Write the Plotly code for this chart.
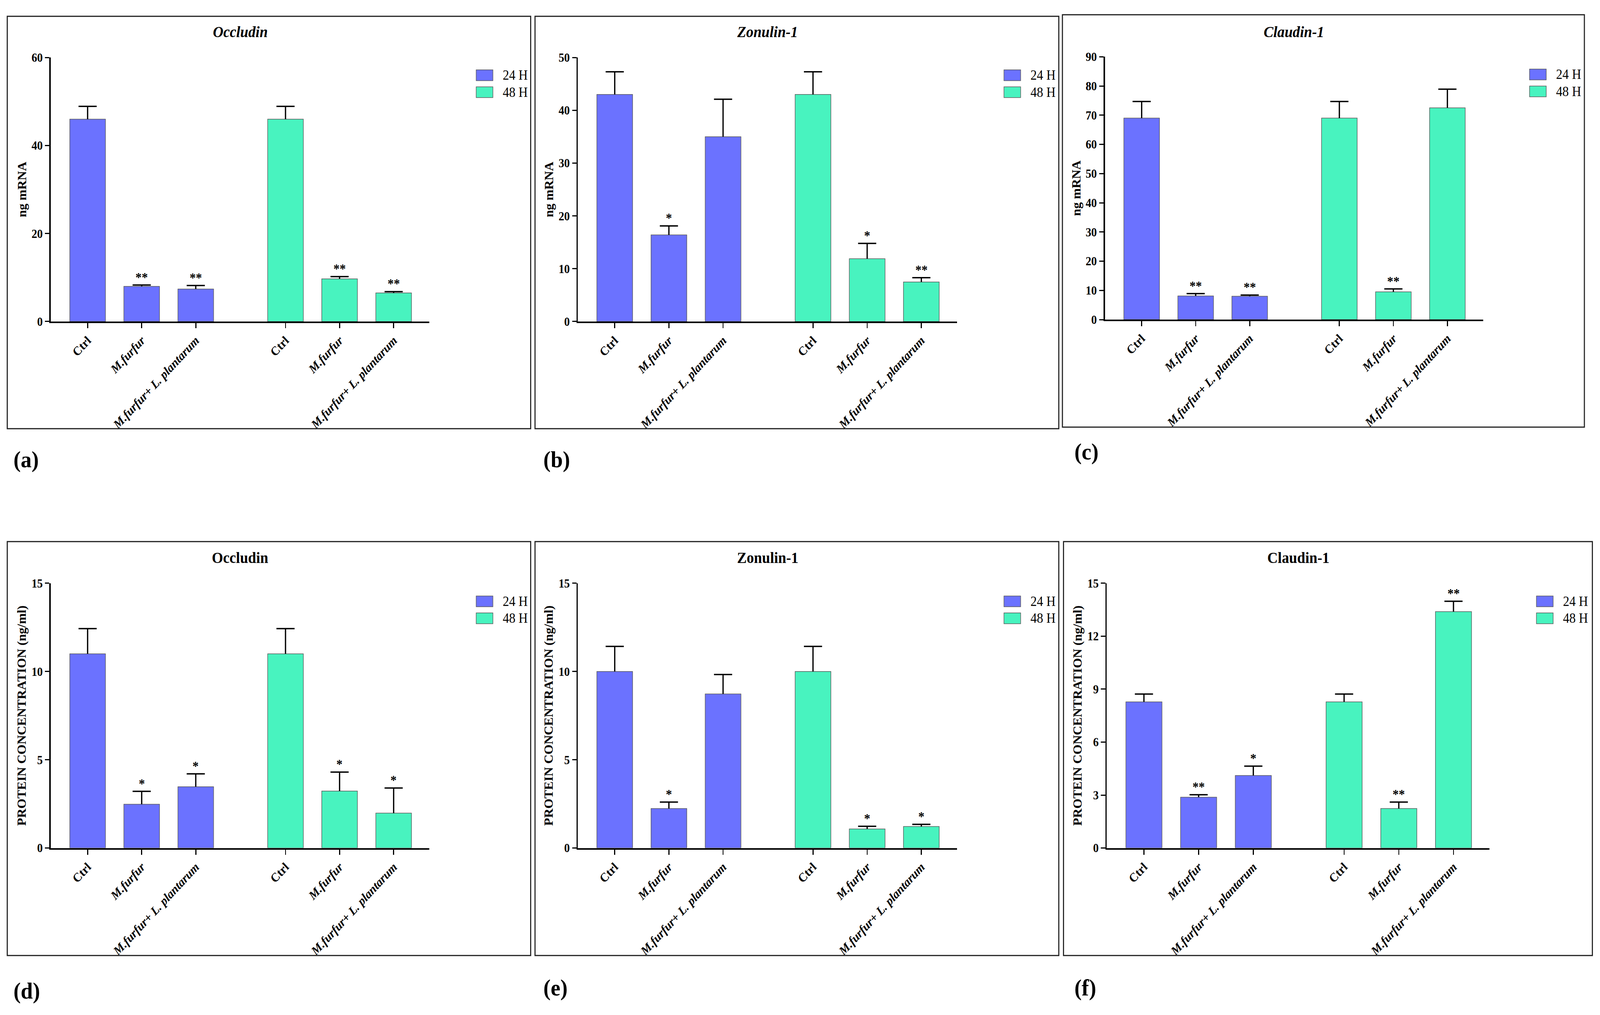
import plotly.graph_objects as go

W, H = 4405, 2598
FONT = "Liberation Serif"

# ---------------- data ----------------
groups = ["Ctrl", "M.furfur", "M.furfur+ L. plantarum"]
tick_text = ["Ctrl", "<i>M.furfur</i>", "<i>M.furfur+ L. plantarum</i>"]
series_names = ["24 H", "48 H"]
panel_titles = ["Occludin", "Zonulin-1", "Claudin-1", "Occludin", "Zonulin-1", "Claudin-1"]
panel_letters = ["(a)", "(b)", "(c)", "(d)", "(e)", "(f)"]
y_titles = ["ng mRNA", "ng mRNA", "ng mRNA",
            "PROTEIN CONCENTRATION (ng/ml)", "PROTEIN CONCENTRATION (ng/ml)", "PROTEIN CONCENTRATION (ng/ml)"]
y_max = [60, 50, 90, 15, 15, 15]
y_dtick = [20, 10, 10, 5, 5, 3]

occ_mrna_24 = [46.0, 8.0, 7.4]
occ_mrna_24_err = [2.9, 0.3, 0.8]
occ_mrna_48 = [46.0, 9.7, 6.5]
occ_mrna_48_err = [2.9, 0.5, 0.3]
occ_mrna_24_sig = ["", "**", "**"]
occ_mrna_48_sig = ["", "**", "**"]

zon_mrna_24 = [43.0, 16.4, 35.0]
zon_mrna_24_err = [4.3, 1.7, 7.1]
zon_mrna_48 = [43.0, 11.9, 7.5]
zon_mrna_48_err = [4.3, 2.9, 0.8]
zon_mrna_24_sig = ["", "*", ""]
zon_mrna_48_sig = ["", "*", "**"]

cla_mrna_24 = [69.0, 8.1, 8.0]
cla_mrna_24_err = [5.7, 0.8, 0.4]
cla_mrna_48 = [69.0, 9.5, 72.5]
cla_mrna_48_err = [5.7, 1.0, 6.4]
cla_mrna_24_sig = ["", "**", "**"]
cla_mrna_48_sig = ["", "**", ""]

occ_prot_24 = [11.0, 2.48, 3.47]
occ_prot_24_err = [1.43, 0.73, 0.73]
occ_prot_48 = [11.0, 3.23, 1.98]
occ_prot_48_err = [1.43, 1.07, 1.42]
occ_prot_24_sig = ["", "*", "*"]
occ_prot_48_sig = ["", "*", "*"]

zon_prot_24 = [10.0, 2.24, 8.73]
zon_prot_24_err = [1.42, 0.36, 1.10]
zon_prot_48 = [10.0, 1.08, 1.22]
zon_prot_48_err = [1.42, 0.15, 0.12]
zon_prot_24_sig = ["", "*", ""]
zon_prot_48_sig = ["", "*", "*"]

cla_prot_24 = [8.28, 2.88, 4.11]
cla_prot_24_err = [0.44, 0.14, 0.53]
cla_prot_48 = [8.28, 2.24, 13.39]
cla_prot_48_err = [0.44, 0.36, 0.59]
cla_prot_24_sig = ["", "**", "*"]
cla_prot_48_sig = ["", "**", "**"]

panels = [
    (occ_mrna_24, occ_mrna_24_err, occ_mrna_24_sig, occ_mrna_48, occ_mrna_48_err, occ_mrna_48_sig),
    (zon_mrna_24, zon_mrna_24_err, zon_mrna_24_sig, zon_mrna_48, zon_mrna_48_err, zon_mrna_48_sig),
    (cla_mrna_24, cla_mrna_24_err, cla_mrna_24_sig, cla_mrna_48, cla_mrna_48_err, cla_mrna_48_sig),
    (occ_prot_24, occ_prot_24_err, occ_prot_24_sig, occ_prot_48, occ_prot_48_err, occ_prot_48_sig),
    (zon_prot_24, zon_prot_24_err, zon_prot_24_sig, zon_prot_48, zon_prot_48_err, zon_prot_48_sig),
    (cla_prot_24, cla_prot_24_err, cla_prot_24_sig, cla_prot_48, cla_prot_48_err, cla_prot_48_sig),
]

# ---------------- style / layout ----------------
COLORS = ["#6B72FF", "#48F3BF"]
BAR_LINE = "#5a5a5a"
GROUP_OFFSET = 3.66
BAR_WIDTH = 0.66
X_RANGE = [-0.68, 6.32]
CAP_PX = 25

# plot areas in pixels: (left, right, top, bottom)
plot_px = [
    (140, 1182, 132, 817),
    (1591, 2635, 132, 817),
    (3042, 4083, 130, 812),
    (140, 1182, 1496, 2183),
    (1591, 2635, 1496, 2183),
    (3047, 4101, 1496, 2183),
]
box_px = [
    (20, 1461, 25, 1095),
    (1473, 2915, 25, 1095),
    (2925, 4362, 21, 1091),
    (20, 1461, 1388, 2462),
    (1473, 2915, 1388, 2462),
    (2928, 4384, 1388, 2462),
]
title_y_px = [65, 65, 65, 1430, 1430, 1430]
legend_px = [  # left of swatch, top of first swatch, text left
    (1311, 164, 1382),
    (2764, 164, 2835),
    (4211, 162, 4282),
    (1311, 1529, 1382),
    (2764, 1529, 2835),
    (4230, 1529, 4301),
]
letter_px = [(35, 1175), (1494, 1175), (2956, 1155), (35, 2553), (1494, 2545), (2956, 2545)]


def px_x(p):
    return p / W


def px_y(p):
    return 1 - p / H


fig = go.Figure()
layout = dict(
    width=W, height=H, margin=dict(l=0, r=0, t=0, b=0),
    paper_bgcolor="white", plot_bgcolor="white", showlegend=False,
    font=dict(family=FONT, color="black"),
)
annotations = []
shapes = []

for k, (v24, e24, s24, v48, e48, s48) in enumerate(panels):
    sfx = "" if k == 0 else str(k + 1)
    xa, ya = "x" + sfx, "y" + sfx
    L, R, T, B = plot_px[k]
    cap = CAP_PX * (X_RANGE[1] - X_RANGE[0]) / (R - L)
    tickvals = []
    for g, (vals, errs, sigs) in enumerate([(v24, e24, s24), (v48, e48, s48)]):
        xs = [i + g * GROUP_OFFSET for i in range(len(groups))]
        tickvals += xs
        fig.add_trace(go.Bar(
            x=xs, y=vals, width=BAR_WIDTH, name=series_names[g],
            marker=dict(color=COLORS[g], line=dict(color=BAR_LINE, width=1.5)),
            xaxis=xa, yaxis=ya,
        ))
        ex, ey = [], []
        for x, v, e in zip(xs, vals, errs):
            ex += [x, x, None, x - cap, x + cap, None]
            ey += [v, v + e, None, v + e, v + e, None]
        fig.add_trace(go.Scatter(
            x=ex, y=ey, mode="lines", line=dict(color="black", width=3.5),
            xaxis=xa, yaxis=ya, hoverinfo="skip",
        ))
        for x, v, e, s in zip(xs, vals, errs, sigs):
            if s:
                annotations.append(dict(
                    x=x, y=v + e, xref=xa, yref=ya, text=s, showarrow=False,
                    yanchor="bottom", yshift=0,
                    font=dict(size=34, family=FONT, color="black", weight="bold"),
                ))

    layout["xaxis" + sfx] = dict(
        domain=[px_x(L), px_x(R)], range=X_RANGE, anchor=ya,
        tickmode="array", tickvals=tickvals, ticktext=tick_text * 2,
        tickangle=-45, ticks="outside", ticklen=13, tickwidth=3, tickcolor="black",
        showline=True, linewidth=4, linecolor="black",
        showgrid=False, zeroline=False,
        tickfont=dict(size=32, family=FONT, color="black", weight="bold"),
    )
    layout["yaxis" + sfx] = dict(
        domain=[px_y(B), px_y(T)], range=[0, y_max[k]], anchor=xa,
        dtick=y_dtick[k], tick0=0, ticks="outside", ticklen=12, tickwidth=3, tickcolor="black",
        showline=True, linewidth=4, linecolor="black",
        showgrid=False, zeroline=False,
        tickfont=dict(size=31, family=FONT, color="black", weight="bold"),
    )

    # panel box
    bl, br, bt, bb = box_px[k]
    shapes.append(dict(type="rect", xref="paper", yref="paper",
                       x0=px_x(bl), x1=px_x(br), y0=px_y(bb), y1=px_y(bt),
                       line=dict(color="#222222", width=3), fillcolor="rgba(0,0,0,0)"))
    # title
    title_txt = "<i>%s</i>" % panel_titles[k] if k < 3 else panel_titles[k]
    annotations.append(dict(
        x=px_x((L + R) / 2), y=px_y(title_y_px[k]), xref="paper", yref="paper",
        text=title_txt, showarrow=False, xanchor="center", yanchor="middle",
        font=dict(size=40, family=FONT, color="black", weight="bold"),
    ))
    # y-axis title
    annotations.append(dict(
        x=px_x(L - 79), y=px_y((T + B) / 2), xref="paper", yref="paper",
        text=y_titles[k], showarrow=False, textangle=-90,
        xanchor="center", yanchor="middle",
        font=dict(size=33, family=FONT, color="black", weight="bold"),
    ))
    # legend
    lx, ly, tx = legend_px[k]
    for g in range(2):
        top = ly + g * 44
        shapes.append(dict(type="rect", xref="paper", yref="paper",
                           x0=px_x(lx), x1=px_x(lx + 46), y0=px_y(top + 28), y1=px_y(top),
                           line=dict(color=BAR_LINE, width=1.5), fillcolor=COLORS[g]))
        annotations.append(dict(
            x=px_x(tx), y=px_y(top + 14), xref="paper", yref="paper",
            text=series_names[g], showarrow=False, xanchor="left", yanchor="middle",
            font=dict(size=35, family=FONT, color="black"),
        ))
    # panel letter
    lx2, ly2 = letter_px[k]
    annotations.append(dict(
        x=px_x(lx2), y=px_y(ly2), xref="paper", yref="paper",
        text=panel_letters[k], showarrow=False, xanchor="left", yanchor="middle",
        font=dict(size=60, family=FONT, color="black", weight="bold"),
    ))

layout["annotations"] = annotations
layout["shapes"] = shapes
fig.update_layout(**layout)

# fit the fixed-size figure exactly into the browser viewport
fit_js = """
document.documentElement.style.margin='0';
document.documentElement.style.overflow='hidden';
document.body.style.margin='0';
document.body.style.overflow='hidden';
var gd = document.getElementById('{plot_id}');
var sx = window.innerWidth / %d, sy = window.innerHeight / %d;
gd.style.transformOrigin = '0 0';
gd.style.transform = 'scale(' + sx + ',' + sy + ')';
""" % (W, H)

fig.write_html("out.html", post_script=fit_js, config={"displayModeBar": False})
